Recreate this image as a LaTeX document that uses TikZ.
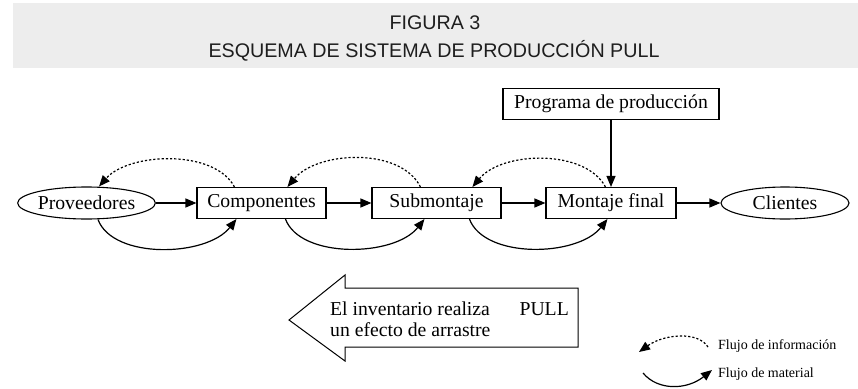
\documentclass[tikz,border=0pt]{standalone}
\usepackage{fontspec}
\setmainfont{Liberation Serif}
\newfontfamily\titlefont{Liberation Sans}
\usetikzlibrary{arrows.meta,shapes.geometric}
\definecolor{bandgray}{HTML}{EDEDED}
\definecolor{titleink}{HTML}{1E1E1E}
\tikzset{
  boxnode/.style={draw, line width=1.1pt, minimum height=31pt, inner sep=0pt,
    font=\fontsize{19.7}{24}\selectfont},
  ellnode/.style={draw, ellipse, line width=1.1pt, minimum height=32pt, inner sep=0pt,
    font=\fontsize{19.7}{24}\selectfont},
  flow/.style={line width=1.2pt, -{Triangle[length=11pt,width=9pt]}},
  infoflow/.style={flow, dash pattern=on 2.2pt off 2pt},
  titletext/.style={anchor=base, inner sep=0pt, text=titleink,
    font=\titlefont\fontsize{19.7}{24}\selectfont},
  arrowtext/.style={anchor=base west, inner sep=0pt, font=\fontsize{19.7}{24}\selectfont},
  legendtext/.style={anchor=base west, inner sep=0pt, font=\fontsize{14}{17}\selectfont}
}
\begin{document}
\begin{tikzpicture}[x=1pt,y=-1pt]
\useasboundingbox (0,0) rectangle (858,388);
% header band
\fill[bandgray] (13,3) rectangle (858,68);
\node[titletext] (t1) at (435,29) {FIGURA 3};
\node[titletext] (t2) at (434,57) {ESQUEMA DE SISTEMA DE PRODUCCIÓN PULL};
% nodes
\node[boxnode, minimum width=216pt] (prog) at (611,104) {Programa de producción};
\node[ellnode, minimum width=129pt] (prov) at (86.5,203) {Proveedores};
\node[boxnode, minimum width=129pt] (comp) at (261.5,203) {Componentes};
\node[boxnode, minimum width=129pt] (sub) at (436.5,203) {Submontaje};
\node[boxnode, minimum width=130pt] (mont) at (611,203) {Montaje final};
\node[ellnode, minimum width=128pt] (cli) at (785,203) {Clientes};
% straight flows
\draw[flow] (prov.east) -- (comp.west);
\draw[flow] (comp.east) -- (sub.west);
\draw[flow] (sub.east) -- (mont.west);
\draw[flow] (mont.east) -- (cli.west);
\draw[flow] (prog.south) -- (mont.north);
% information flows (dotted, above)
\draw[infoflow] ([xshift=38pt]comp.north west) .. controls +(-20,-38) and +(30,-34) .. ([xshift=12.5pt]prov.north);
\draw[infoflow] ([xshift=49pt]sub.north west) .. controls +(-20,-40) and +(30,-36) .. ([xshift=91pt]comp.north west);
\draw[infoflow] ([xshift=60pt]mont.north west) .. controls +(-20,-38) and +(30,-36) .. ([xshift=101pt]sub.north west);
% material flows (solid, below)
\draw[flow] ([xshift=11.5pt]prov.south) .. controls +(15,40) and +(-30,38) .. ([xshift=40pt]comp.south west);
\draw[flow] ([xshift=89pt]comp.south west) .. controls +(15,40) and +(-30,38) .. ([xshift=53pt]sub.south west);
\draw[flow] ([xshift=98pt]sub.south west) .. controls +(15,40) and +(-30,38) .. ([xshift=62pt]mont.south west);
% big pull arrow
\draw[line width=1pt, line join=miter] (289,320) -- (345,275) -- (345,288) -- (578,288) -- (578,347) -- (345,347) -- (345,361) -- cycle;
\node[arrowtext] (a1) at (330,315) {El inventario realiza};
\node[arrowtext] (a2) at (330,336) {un efecto de arrastre};
\node[arrowtext, anchor=base east] (a3) at (569,315) {PULL};
% legend
\coordinate (li1) at (708,347);
\coordinate (li2) at (639,352);
\coordinate (lm1) at (643,373);
\coordinate (lm2) at (712,370);
\draw[infoflow] (li1) .. controls +(-10,-16) and +(25,-18) .. (li2);
\draw[flow] (lm1) .. controls +(15,18) and +(-25,20) .. (lm2);
\node[legendtext] (l1) at (718,349) {Flujo de información};
\node[legendtext] (l2) at (718,377) {Flujo de material};
\end{tikzpicture}
\end{document}
